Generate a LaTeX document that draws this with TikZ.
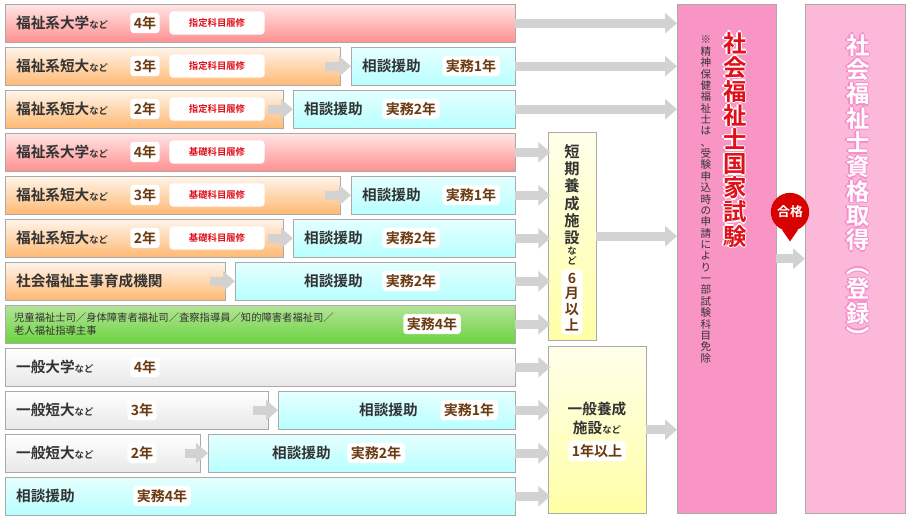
\documentclass[tikz,border=0pt]{standalone}
\usepackage{fontspec}
\setmainfont{Noto Sans CJK JP}[BoldFont={Noto Sans CJK JP Bold}]
\usetikzlibrary{arrows.meta}

\definecolor{txt}{HTML}{333333}
\definecolor{brn}{HTML}{6B3A10}
\definecolor{redtxt}{HTML}{E0101A}
\definecolor{exampink}{HTML}{F995C5}
\definecolor{finpink}{HTML}{FBB8D8}
\definecolor{edge}{HTML}{AAAAAA}

\begin{document}
\begin{tikzpicture}[x=0.03cm, y=-0.03cm,
    rowbox/.style={draw=edge, anchor=north west, minimum height=1.14cm, inner sep=0},
    pinkrow/.style={rowbox, top color=white!60!pink, bottom color=red!25!pink},
    orgrow/.style={rowbox, top color=orange!8, bottom color=orange!55},
    cyanrow/.style={rowbox, top color=cyan!10, bottom color=cyan!28},
    greenrow/.style={rowbox, top color=green!45!olive!40, bottom color=green!55!olive!75},
    greyrow/.style={rowbox, top color=white, bottom color=gray!18},
    lbl/.style={anchor=west, text=txt, font=\bfseries\fontsize{12.5}{14}\selectfont},
    tag/.style={fill=white, rounded corners=3pt, inner sep=3pt, text=brn, font=\bfseries\fontsize{12}{14}\selectfont},
    course/.style={fill=white, rounded corners=3pt, minimum width=2.85cm, minimum height=0.7cm, text=redtxt, font=\bfseries\fontsize{8}{10}\selectfont},
    garrow/.style={draw=gray!35, line width=0.27cm, -{Triangle[length=0.36cm, width=0.6cm]}},
    vbox/.style={draw=edge, anchor=north west, inner sep=0, top color=yellow!8, bottom color=yellow!35}]
  \useasboundingbox (0,0) rectangle (911,518);
  \newcommand{\nado}{{\fontsize{8}{9}\selectfont など}}

  % 右側の試験と登録
  \node[draw=edge, anchor=north west, fill=exampink, minimum width=2.97cm, minimum height=15.27cm, inner sep=0] (exam) at (677,4) {};
  \node[draw=edge, anchor=north west, fill=finpink, minimum width=3.0cm, minimum height=15.27cm, inner sep=0] (fin) at (805,4) {};
  \foreach \dx/\dy in {-1.5/0, 1.5/0, 0/-1.5, 0/1.5}
    \node[anchor=north, text=white, align=center, font=\bfseries\fontsize{20}{20.6}\selectfont] at (735+\dx,28+\dy) {社\\会\\福\\祉\\士\\国\\家\\試\\験};
  \node[anchor=north, text=redtxt, align=center, font=\bfseries\fontsize{20}{20.6}\selectfont] (title) at (735,28) {社\\会\\福\\祉\\士\\国\\家\\試\\験};
  \node[anchor=north, text=txt, align=center, font=\fontsize{9}{9.7}\selectfont] (note) at (706,32) {※\\精\\神\\保\\健\\福\\祉\\士\\は\\、\\受\\験\\申\\込\\時\\の\\申\\請\\に\\よ\\り\\一\\部\\試\\験\\科\\目\\免\\除};
  \foreach \dx/\dy in {-1.5/0, 1.5/0, 0/-1.5, 0/1.5}
    \node[anchor=north, text=magenta!45, align=center, font=\bfseries\fontsize{20}{20.8}\selectfont] at (858+\dx,30+\dy) {社\\会\\福\\祉\\士\\資\\格\\取\\得\\︵\\登\\録\\︶};
  \node[anchor=north, text=white, align=center, font=\bfseries\fontsize{20}{20.8}\selectfont] (reg) at (858,30) {社\\会\\福\\祉\\士\\資\\格\\取\\得\\︵\\登\\録\\︶};

  % 合格
  \draw[garrow] (exam.east) -- (fin.west);
  \node[circle, fill=red!85!black, text=white, minimum size=1.15cm, inner sep=0, font=\bfseries\fontsize{11}{12}\selectfont] (pass) at (790,212) {合格};
  \fill[red!85!black] (pass.-115) -- (pass.-65) -- ([yshift=-0.3cm]pass.south) -- cycle;

  % 養成施設
  \node[vbox, minimum width=1.44cm, minimum height=6.24cm] (sb) at (548,132) {};
  \node[anchor=north, align=center, text=txt, font=\bfseries\fontsize{13}{14.8}\selectfont] (sbt) at (572,140) {短\\期\\養\\成\\施\\設};
  \node[anchor=north, align=center, text=txt, font=\bfseries\fontsize{8}{8.5}\selectfont] (sbn) at (572,243) {な\\ど};
  \node[tag, align=center, font=\bfseries\fontsize{12}{13.5}\selectfont] (sbm) at (572,302) {6\\月\\以\\上};
  \node[vbox, minimum width=2.94cm, minimum height=5.01cm] (gb) at (548,346) {};
  \node[align=center, text=txt, font=\bfseries\fontsize{12.5}{16}\selectfont] (gbt) at (597,418) {一般養成\\施設\nado};
  \node[tag] (gbm) at (597,451) {1年以上};
  \draw[garrow] (sb.east) -- (sb.east -| exam.west);
  \draw[garrow] (gb.east) -- (gb.east -| exam.west);

  % 福祉系（指定科目）
  \node[pinkrow, minimum width=15.3cm] (r1) at (5,4) {};
  \node[lbl] at (12,23) {福祉系大学\nado};
  \node[tag] at (145,23) {4年};
  \node[course] at (217,23) {指定科目履修};
  \node[orgrow, minimum width=10.05cm] (r2) at (5,47) {};
  \node[cyanrow, minimum width=4.92cm] (c2) at (351,47) {};
  \node[lbl] at (12,66) {福祉系短大\nado};
  \node[tag] at (145,66) {3年};
  \node[course] at (217,66) {指定科目履修};
  \node[lbl] at (358,66) {相談援助};
  \node[tag] at (471,66) {実務1年};
  \node[orgrow, minimum width=8.34cm] (r3) at (5,90) {};
  \node[cyanrow, minimum width=6.66cm] (c3) at (293,90) {};
  \node[lbl] at (12,109) {福祉系短大\nado};
  \node[tag] at (145,109) {2年};
  \node[course] at (217,109) {指定科目履修};
  \node[lbl] at (300,109) {相談援助};
  \node[tag] at (411,109) {実務2年};

  % 福祉系（基礎科目）
  \node[pinkrow, minimum width=15.3cm] (r4) at (5,133) {};
  \node[lbl] at (12,152) {福祉系大学\nado};
  \node[tag] at (145,152) {4年};
  \node[course] at (217,152) {基礎科目履修};
  \node[orgrow, minimum width=10.05cm] (r5) at (5,176) {};
  \node[cyanrow, minimum width=4.92cm] (c5) at (351,176) {};
  \node[lbl] at (12,195) {福祉系短大\nado};
  \node[tag] at (145,195) {3年};
  \node[course] at (217,195) {基礎科目履修};
  \node[lbl] at (358,195) {相談援助};
  \node[tag] at (471,195) {実務1年};
  \node[orgrow, minimum width=8.34cm] (r6) at (5,219) {};
  \node[cyanrow, minimum width=6.66cm] (c6) at (293,219) {};
  \node[lbl] at (12,238) {福祉系短大\nado};
  \node[tag] at (145,238) {2年};
  \node[course] at (217,238) {基礎科目履修};
  \node[lbl] at (300,238) {相談援助};
  \node[tag] at (411,238) {実務2年};
  \node[orgrow, minimum width=6.6cm] (r7) at (5,262) {};
  \node[cyanrow, minimum width=8.4cm] (c7) at (235,262) {};
  \node[lbl] at (12,281) {社会福祉主事育成機関};
  \node[lbl] at (300,281) {相談援助};
  \node[tag] at (411,281) {実務2年};
  \node[greenrow, minimum width=15.3cm] (r8) at (5,305) {};
  \node[anchor=west, align=left, text=txt, font=\fontsize{8.8}{11}\selectfont] at (10,324) {児童福祉士司／身体障害者福祉司／査察指導員／知的障害者福祉司／\\老人福祉指導主事};
  \node[tag] at (432,324) {実務4年};

  % 一般
  \node[greyrow, minimum width=15.3cm] (r9) at (5,348) {};
  \node[lbl] at (12,367) {一般大学\nado};
  \node[tag] at (145,367) {4年};
  \node[greyrow, minimum width=7.89cm] (r10) at (5,391) {};
  \node[cyanrow, minimum width=7.11cm] (c10) at (278,391) {};
  \node[lbl] at (12,410) {一般短大\nado};
  \node[tag] at (142,410) {3年};
  \node[lbl] at (355,410) {相談援助};
  \node[tag] at (469,410) {実務1年};
  \node[greyrow, minimum width=5.85cm] (r11) at (5,434) {};
  \node[cyanrow, minimum width=9.21cm] (c11) at (208,434) {};
  \node[lbl] at (12,453) {一般短大\nado};
  \node[tag] at (142,453) {2年};
  \node[lbl] at (268,453) {相談援助};
  \node[tag] at (376,453) {実務2年};
  \node[cyanrow, minimum width=15.3cm] (r12) at (5,477) {};
  \node[lbl] at (12,496) {相談援助};
  \node[tag] at (162,496) {実務4年};

  % 矢印
  \draw[garrow] (r1.east) -- (r1.east -| exam.west);
  \draw[garrow] (c2.east) -- (c2.east -| exam.west);
  \draw[garrow] (c3.east) -- (c3.east -| exam.west);
  \draw[garrow] ([xshift=-0.45cm]r2.east) -- (c2.west);
  \draw[garrow] ([xshift=-0.45cm]r3.east) -- (c3.west);
  \draw[garrow] ([xshift=-0.45cm]r5.east) -- (c5.west);
  \draw[garrow] ([xshift=-0.45cm]r6.east) -- (c6.west);
  \draw[garrow] ([xshift=-0.45cm]r7.east) -- (c7.west);
  \draw[garrow] ([xshift=-0.45cm]r10.east) -- (c10.west);
  \draw[garrow] ([xshift=-0.45cm]r11.east) -- (c11.west);
  \foreach \n in {r4, c5, c6, c7, r8}
    \draw[garrow] (\n.east) -- ([xshift=2pt]\n.east -| sb.west);
  \foreach \n in {r9, c10, c11, r12}
    \draw[garrow] (\n.east) -- ([xshift=2pt]\n.east -| gb.west);

\end{tikzpicture}
\end{document}
